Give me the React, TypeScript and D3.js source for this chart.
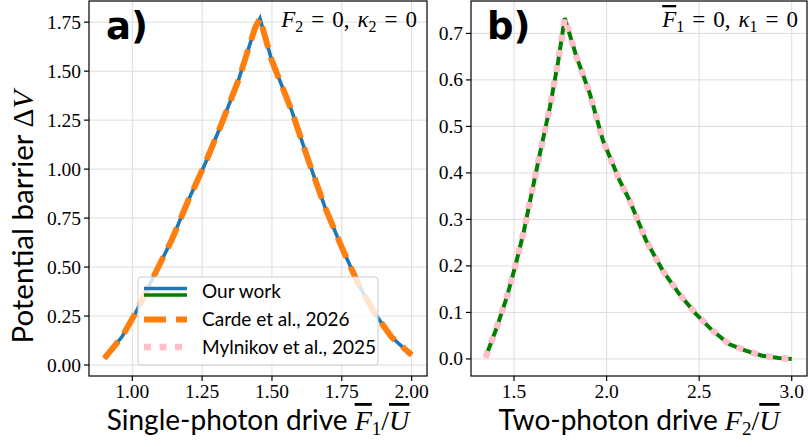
import React from 'react';
import * as d3 from 'd3';

// panel a: single-photon drive, F2 = 0
const driveA = [0.9, 0.963, 1.011, 1.082, 1.141, 1.201, 1.261, 1.32, 1.38, 1.439, 1.457, 1.499, 1.57, 1.63, 1.689, 1.749, 1.808, 1.868, 1.927, 2.0];
const barrierA = [0.034, 0.144, 0.264, 0.468, 0.638, 0.842, 1.029, 1.233, 1.454, 1.718, 1.769, 1.556, 1.301, 1.046, 0.808, 0.604, 0.417, 0.264, 0.144, 0.051];

// panel b: two-photon drive, F1 = 0
const driveB = [1.346, 1.407, 1.461, 1.505, 1.55, 1.595, 1.64, 1.694, 1.738, 1.774, 1.837, 1.909, 1.98, 2.07, 2.124, 2.213, 2.303, 2.392, 2.482, 2.572, 2.661, 2.751, 2.84, 2.93, 3.0];
const barrierB = [0.003, 0.068, 0.133, 0.197, 0.269, 0.356, 0.442, 0.542, 0.639, 0.733, 0.65, 0.571, 0.47, 0.384, 0.341, 0.255, 0.19, 0.14, 0.097, 0.061, 0.032, 0.018, 0.007, 0.002, 0.0];

const ticksXA = [1.0, 1.25, 1.5, 1.75, 2.0];
const ticksYA = [0, 0.25, 0.5, 0.75, 1.0, 1.25, 1.5, 1.75];
const ticksXB = [1.5, 2.0, 2.5, 3.0];
const ticksYB = [0, 0.1, 0.2, 0.3, 0.4, 0.5, 0.6, 0.7];

const legendLabels = ['Our work', 'Carde et al., 2026', 'Mylnikov et al., 2025'];

const SERIF = '"Liberation Serif", "DejaVu Serif", serif';
const SANS = 'Lato, "DejaVu Sans", sans-serif';
const GRID = '#dddddd';

const top = 1, bottom = 376;

const xA = d3.scaleLinear().domain([0.845, 2.055]).range([89, 427]);
const yA = d3.scaleLinear().domain([-0.056, 1.858]).range([bottom, top]);
const xB = d3.scaleLinear().domain([1.2675, 3.0825]).range([471, 807]);
const yB = d3.scaleLinear().domain([-0.0367, 0.7697]).range([bottom, top]);

const fA = d3.format('.2f');
const fB = d3.format('.1f');

const Axes = ({ x, y, xt, yt, fmt }) => {
  const [x0, x1] = x.range();
  return (
    <g>
      {xt.map(t => <line key={'gx' + t} x1={x(t)} x2={x(t)} y1={top} y2={bottom} stroke={GRID} strokeWidth={1} />)}
      {yt.map(t => <line key={'gy' + t} x1={x0} x2={x1} y1={y(t)} y2={y(t)} stroke={GRID} strokeWidth={1} />)}
      {xt.map(t => (
        <g key={'tx' + t}>
          <line x1={x(t)} x2={x(t)} y1={bottom} y2={bottom + 5} stroke="#000" strokeWidth={1.2} />
          <text x={x(t)} y={398} textAnchor="middle" fontFamily={SERIF} fontSize={19.5}>{fmt(t)}</text>
        </g>
      ))}
      {yt.map(t => (
        <g key={'ty' + t}>
          <line x1={x0 - 5} x2={x0} y1={y(t)} y2={y(t)} stroke="#000" strokeWidth={1.2} />
          <text x={x0 - 8} y={y(t) + 6.5} textAnchor="end" fontFamily={SERIF} fontSize={19.5}>{fmt(t)}</text>
        </g>
      ))}
    </g>
  );
};

const Frame = ({ x }) => {
  const [x0, x1] = x.range();
  return <rect x={x0} y={top} width={x1 - x0} height={bottom - top} fill="none" stroke="#000" strokeWidth={1.2} />;
};

// "F_i = 0, κ_i = 0" in math style
const Condition = ({ x, idx, bar }) => {
  const s = 23;
  return (
    <text x={x} y={27} textAnchor="end" fontFamily={SERIF} fontSize={s}>
      <tspan fontStyle="italic" style={bar ? { textDecoration: 'overline' } : undefined}>F</tspan>
      <tspan dy={5} fontSize={16}>{idx}</tspan>
      <tspan dy={-5} dx={8}>=</tspan>
      <tspan dx={8}>0,</tspan>
      <tspan dx={8} fontStyle="italic">κ</tspan>
      <tspan dy={5} fontSize={16}>{idx}</tspan>
      <tspan dy={-5} dx={8}>=</tspan>
      <tspan dx={8}>0</tspan>
    </text>
  );
};

export default function App() {
  const lineA = d3.line<number>().x((d, i) => xA(driveA[i])).y(d => yA(d));
  const lineB = d3.line<number>().x((d, i) => xB(driveB[i])).y(d => yB(d));
  const dA = lineA(barrierA);
  const dB = lineB(barrierB);

  const lx = 144, lw = 43;
  return (
    <svg width={808} height={447} style={{ position: 'absolute', left: 0, top: 0, background: '#fff' }}>
      <defs>
        <clipPath id="ca"><rect x={89} y={top} width={338} height={bottom - top} /></clipPath>
        <clipPath id="cb"><rect x={471} y={top} width={336} height={bottom - top} /></clipPath>
      </defs>

      {/* panel a */}
      <Axes x={xA} y={yA} xt={ticksXA} yt={ticksYA} fmt={fA} />
      <g clipPath="url(#ca)">
        <path d={dA} fill="none" stroke="#1f77b4" strokeWidth={3.6} />
        <path d={dA} fill="none" stroke="#ff7f0e" strokeWidth={6} strokeDasharray="22,10" />
      </g>
      <Frame x={xA} />
      <text x={106} y={39} fontFamily='"DejaVu Sans", sans-serif' fontWeight="bold" fontSize={37}>a)</text>
      <Condition x={417} idx="2" bar={false} />

      {/* legend */}
      <rect x={138} y={277} width={240} height={88} rx={3} fill="#fff" fillOpacity={0.8} stroke="#cccccc" strokeWidth={1} />
      <line x1={lx} x2={lx + lw} y1={288.5} y2={288.5} stroke="#1f77b4" strokeWidth={3.6} />
      <line x1={lx} x2={lx + lw} y1={295} y2={295} stroke="green" strokeWidth={3.6} />
      <line x1={lx} x2={lx + lw} y1={319.5} y2={319.5} stroke="#ff7f0e" strokeWidth={6} strokeDasharray="22,10" />
      <line x1={lx} x2={lx + lw} y1={347} y2={347} stroke="pink" strokeWidth={6.5} strokeDasharray="7,8.5" />
      {legendLabels.map((l, i) => (
        <text key={l} x={202} y={[298, 326, 353.5][i]} fontFamily={SANS} fontSize={19}>{l}</text>
      ))}

      <text transform="translate(33,217) rotate(-90)" textAnchor="middle" fontFamily={SANS} fontSize={29.5}>
        {'Potential barrier '}<tspan fontFamily={SERIF}>Δ</tspan><tspan fontFamily={SERIF} fontStyle="italic">V</tspan>
      </text>
      <text x={258} y={430} textAnchor="middle" fontFamily={SANS} fontSize={28}>
        {'Single-photon drive '}
        <tspan fontFamily={SERIF} fontStyle="italic" style={{ textDecoration: 'overline' }}>F</tspan>
        <tspan fontFamily={SERIF} dy={5} fontSize={19}>1</tspan>
        <tspan fontFamily={SERIF} dy={-5}>/</tspan>
        <tspan fontFamily={SERIF} fontStyle="italic" style={{ textDecoration: 'overline' }}>U</tspan>
      </text>

      {/* panel b */}
      <Axes x={xB} y={yB} xt={ticksXB} yt={ticksYB} fmt={fB} />
      <g clipPath="url(#cb)">
        <path d={dB} fill="none" stroke="green" strokeWidth={4} />
        <path d={dB} fill="none" stroke="pink" strokeWidth={6.5} strokeDasharray="7,8.5" />
      </g>
      <Frame x={xB} />
      <text x={487} y={39} fontFamily='"DejaVu Sans", sans-serif' fontWeight="bold" fontSize={37}>b)</text>
      <Condition x={798} idx="1" bar={true} />
      <text x={639} y={430} textAnchor="middle" fontFamily={SANS} fontSize={28}>
        {'Two-photon drive '}
        <tspan fontFamily={SERIF} fontStyle="italic">F</tspan>
        <tspan fontFamily={SERIF} dy={5} fontSize={19}>2</tspan>
        <tspan fontFamily={SERIF} dy={-5}>/</tspan>
        <tspan fontFamily={SERIF} fontStyle="italic" style={{ textDecoration: 'overline' }}>U</tspan>
      </text>
    </svg>
  );
}
